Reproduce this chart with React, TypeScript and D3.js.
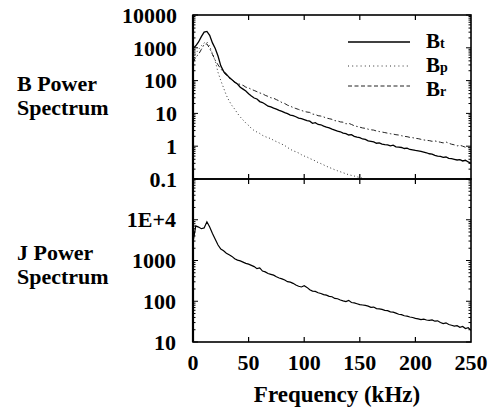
import React from "react";
import * as d3 from "d3";

// Sampling grid step (kHz)
const STEP = 2.5;

// B_t power spectrum (0 .. 250 kHz, every 2.5 kHz)
const bt: number[] = [
  955, 1150, 1510, 2190, 3020, 3160, 2400, 1410, 955, 562,
  282, 191, 158, 126, 107, 89, 79, 63, 55, 48,
  40, 34, 29.5, 27.5, 22.9, 21.4, 19.1, 16.6, 15.8, 14.5,
  13.5, 12.3, 11.5, 10.5, 9.8, 8.9, 8.5, 7.9, 7.2, 6.9,
  6.5, 6.0, 5.8, 5.0, 5.2, 4.6, 4.5, 4.1, 3.8, 3.6,
  3.3, 3.1, 2.9, 2.75, 2.5, 2.4, 2.2, 2.24, 2.0, 1.9,
  1.82, 1.66, 1.62, 1.45, 1.41, 1.35, 1.23, 1.26, 1.15, 1.12,
  1.1, 1.02, 1.07, 0.955, 0.933, 0.912, 0.851, 0.871, 0.794, 0.776,
  0.741, 0.724, 0.692, 0.661, 0.631, 0.589, 0.575, 0.525, 0.501, 0.49,
  0.457, 0.468, 0.427, 0.417, 0.398, 0.38, 0.389, 0.355, 0.372, 0.331,
  0.302,
];

// B_p power spectrum (0 .. 157.5 kHz)
const bp: number[] = [
  501, 661, 891, 1150, 1410, 1510, 1120, 661, 398, 178,
  100, 60, 35.5, 24, 17.4, 13.5, 10, 7.8, 6.3, 5.1,
  4.3, 3.5, 3.0, 2.7, 2.45, 2.14, 1.95, 1.82, 1.7, 1.51,
  1.38, 1.26, 1.15, 1.05, 0.91, 0.81, 0.72, 0.68, 0.62, 0.55,
  0.5, 0.47, 0.42, 0.39, 0.355, 0.316, 0.295, 0.269, 0.245, 0.224,
  0.209, 0.191, 0.178, 0.166, 0.155, 0.145, 0.135, 0.129, 0.123, 0.117,
  0.11, 0.105, 0.098, 0.091,
];

// B_r power spectrum (0 .. 250 kHz)
const br: number[] = [
  355, 525, 631, 891, 1260, 1320, 955, 631, 417, 302,
  229, 178, 145, 120, 105, 91, 83, 76, 72, 63,
  60, 54, 50, 46, 42, 40, 35.5, 33, 30, 29,
  26.3, 24, 21.4, 20, 17.8, 16.6, 15.1, 14.1, 13.2, 12.3,
  11.5, 11.0, 10.7, 9.5, 9.3, 8.5, 8.3, 7.8, 7.2, 6.9,
  6.6, 6.0, 5.9, 5.5, 5.4, 4.8, 5.0, 4.6, 4.2, 4.0,
  3.8, 3.6, 3.5, 3.3, 3.16, 3.1, 2.9, 2.8, 2.7, 2.6,
  2.5, 2.4, 2.34, 2.24, 2.19, 2.09, 2.0, 1.95, 1.86, 1.82,
  1.74, 1.7, 1.62, 1.55, 1.51, 1.48, 1.41, 1.45, 1.38, 1.32,
  1.26, 1.35, 1.23, 1.15, 1.1, 1.02, 1.07, 1.0, 0.93, 0.91,
  0.87,
];

// J power spectrum (0 .. 250 kHz)
const jp: number[] = [
  2820, 7080, 6610, 6030, 6310, 8910, 6610, 4570, 3310, 2400,
  1910, 1740, 1510, 1380, 1260, 1100, 1020, 977, 912, 851,
  813, 759, 708, 631, 661, 550, 525, 479, 457, 437,
  398, 372, 355, 331, 302, 295, 275, 251, 234, 224,
  240, 219, 191, 178, 174, 162, 155, 145, 141, 132,
  129, 117, 115, 107, 102, 98, 105, 93, 91, 87,
  83, 81, 79, 76, 71, 72, 66, 65, 63, 60,
  59, 55, 54, 51, 48, 47, 44, 43, 41, 40,
  38, 37, 35.5, 36.3, 34.7, 33.9, 34.7, 32.4, 33.1, 30.2,
  28.2, 29.5, 26.9, 25.7, 24.5, 25.1, 22.9, 24.0, 21.4, 22.4,
  19.5,
];

const xTicks = [0, 50, 100, 150, 200, 250];
const bTickVals = [10000, 1000, 100, 10, 1, 0.1];
const bTickLabels = ["10000", "1000", "100", "10", "1", "0.1"];
const jTickVals = [10000, 1000, 100, 10];
const jTickLabels = ["1E+4", "1000", "100", "10"];

const FONT = "Liberation Serif, DejaVu Serif, serif";

export default function App() {
  const x = d3.scaleLinear().domain([0, 250]).range([193, 471]);
  const yB = d3.scaleLog().domain([0.1, 10000]).range([179, 15]);
  const yJ = d3.scaleLog().domain([10, 1e5]).range([342, 179]);

  const lineB = d3
    .line<number>()
    .x((_, i) => x(i * STEP))
    .y((d) => yB(d));
  const lineJ = d3
    .line<number>()
    .x((_, i) => x(i * STEP))
    .y((d) => yJ(d));

  const isMajor = (v: number) => Math.abs(Math.log10(v) - Math.round(Math.log10(v))) < 1e-6;

  const [x0, x1] = x.range();

  const renderYTicks = (scale: d3.ScaleLogarithmic<number, number>, key: string) =>
    scale.ticks().map((v, i) => {
      const y = scale(v);
      const len = isMajor(v) ? 5 : 2.5;
      return (
        <g key={key + i}>
          <line x1={x0} x2={x0 + len} y1={y} y2={y} stroke="#000" strokeWidth={1} />
          <line x1={x1} x2={x1 - len} y1={y} y2={y} stroke="#000" strokeWidth={1} />
        </g>
      );
    });

  const renderXTicks = (yTop: number, yBot: number, key: string) =>
    xTicks.slice(1, -1).map((v, i) => (
      <g key={key + i}>
        <line x1={x(v)} x2={x(v)} y1={yTop} y2={yTop + 5} stroke="#000" strokeWidth={1.2} />
        <line x1={x(v)} x2={x(v)} y1={yBot} y2={yBot - 5} stroke="#000" strokeWidth={1.2} />
      </g>
    ));

  const [bBot, bTop] = yB.range();
  const [jBot, jTop] = yJ.range();

  const txt = { fontFamily: FONT, fontWeight: 700 } as React.CSSProperties;

  return (
    <svg
      width={494}
      height={412}
      style={{ position: "absolute", left: 0, top: 0, background: "#fff" }}
    >
      <defs>
        <clipPath id="clipB">
          <rect x={x0} y={bTop} width={x1 - x0} height={bBot - bTop} />
        </clipPath>
        <clipPath id="clipJ">
          <rect x={x0} y={jTop} width={x1 - x0} height={jBot - jTop} />
        </clipPath>
      </defs>

      <g style={txt}>
        {/* Left labels */}
        <text x={17} y={91} fontSize={22}>B Power</text>
        <text x={17} y={115} fontSize={22}>Spectrum</text>
        <text x={17} y={260} fontSize={22}>J Power</text>
        <text x={17} y={284} fontSize={22}>Spectrum</text>

        {/* Y tick labels */}
        {bTickVals.map((v, i) => (
          <text key={"bl" + i} x={177} y={yB(v)} dy="0.35em" textAnchor="end" fontSize={22}>
            {bTickLabels[i]}
          </text>
        ))}
        {jTickVals.map((v, i) => (
          <text key={"jl" + i} x={176} y={yJ(v)} dy="0.35em" textAnchor="end" fontSize={22}>
            {jTickLabels[i]}
          </text>
        ))}

        {/* X tick labels */}
        {xTicks.map((v, i) => (
          <text key={"xl" + i} x={x(v)} y={370} textAnchor="middle" fontSize={22}>
            {v}
          </text>
        ))}
        <text x={337} y={402} textAnchor="middle" fontSize={23}>Frequency (kHz)</text>

        {/* Legend labels */}
        <text x={426} y={48} fontSize={21}>
          B<tspan fontSize={14}>t</tspan>
        </text>
        <text x={426} y={72} fontSize={21}>
          B<tspan fontSize={14}>p</tspan>
        </text>
        <text x={426} y={96} fontSize={21}>
          B<tspan fontSize={14}>r</tspan>
        </text>
      </g>

      {/* Data: B panel */}
      <g clipPath="url(#clipB)" fill="none">
        <path d={lineB(bp) || ""} stroke="#333" strokeWidth={1} strokeDasharray="1,2.6" />
        <path d={lineB(br) || ""} stroke="#222" strokeWidth={1} strokeDasharray="5,2.5,1.5,2.5" />
        <path d={lineB(bt) || ""} stroke="#000" strokeWidth={1.3} />
      </g>

      {/* Data: J panel */}
      <g clipPath="url(#clipJ)" fill="none">
        <path d={lineJ(jp) || ""} stroke="#000" strokeWidth={1.2} />
      </g>

      {/* Frames */}
      <rect x={x0} y={bTop} width={x1 - x0} height={bBot - bTop} fill="none" stroke="#000" strokeWidth={1.6} />
      <rect x={x0} y={jTop} width={x1 - x0} height={jBot - jTop} fill="none" stroke="#000" strokeWidth={1.6} />
      <line x1={x0} x2={x0} y1={bTop} y2={jBot} stroke="#000" strokeWidth={2.2} />

      {renderYTicks(yB, "bt")}
      {renderYTicks(yJ, "jt")}
      {renderXTicks(bTop, bBot, "bx")}
      {renderXTicks(jTop, jBot, "jx")}

      {/* Legend lines */}
      <line x1={348} x2={410} y1={42} y2={42} stroke="#000" strokeWidth={1.3} />
      <line x1={348} x2={410} y1={66} y2={66} stroke="#333" strokeWidth={1} strokeDasharray="1,3.2" />
      <line x1={348} x2={410} y1={86} y2={86} stroke="#222" strokeWidth={1} strokeDasharray="4,2.5" />
    </svg>
  );
}
